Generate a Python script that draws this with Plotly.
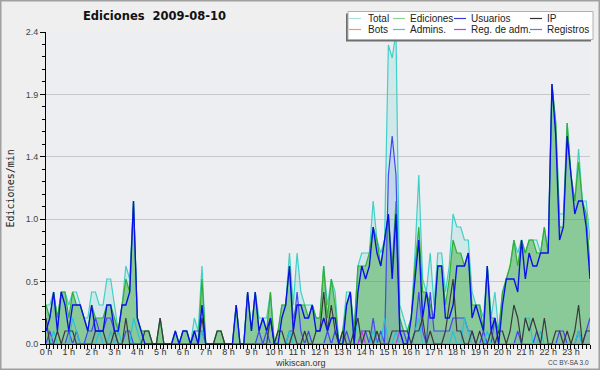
import plotly.graph_objects as go

# ---------------- data (edits per minute, 10-minute slots) ----------------
slot_minutes = list(range(0, 1440, 10))

total = [
    0.3, 0.3, 0.4, 0.2, 0.4, 0.4,   # 0 h
    0.3, 0.4, 0.4, 0.3, 0.2, 0.2,   # 1 h
    0.4, 0.4, 0.3, 0.3, 0.5, 0.5,   # 2 h
    0.3, 0.1, 0.3, 0.6, 0.5, 1.1,   # 3 h
    0.2, 0.1, 0.1, 0.1, 0.0, 0.0,   # 4 h
    0.2, 0.0, 0.0, 0.0, 0.1, 0.0,   # 5 h
    0.1, 0.1, 0.0, 0.2, 0.1, 0.6,   # 6 h
    0.0, 0.0, 0.0, 0.1, 0.1, 0.0,   # 7 h
    0.0, 0.0, 0.3, 0.0, 0.0, 0.4,   # 8 h
    0.1, 0.4, 0.2, 0.2, 0.2, 0.4,   # 9 h
    0.0, 0.1, 0.3, 0.3, 0.7, 0.3,   # 10 h
    0.7, 0.4, 0.3, 0.3, 0.3, 0.2,   # 11 h
    0.2, 0.6, 0.3, 0.5, 0.4, 0.0,   # 12 h
    0.1, 0.4, 0.4, 0.1, 0.6, 0.7,   # 13 h
    0.7, 0.7, 1.1, 0.8, 0.7, 0.8,   # 14 h
    2.3, 2.2, 2.4, 0.3, 0.2, 0.1,   # 15 h
    0.2, 0.7, 1.3, 0.5, 0.4, 0.7,   # 16 h
    0.3, 0.7, 0.7, 0.4, 0.6, 1.0,   # 17 h
    0.9, 0.9, 0.8, 0.8, 0.4, 0.3,   # 18 h
    0.3, 0.2, 0.6, 0.2, 0.4, 0.1,   # 19 h
    0.4, 0.5, 0.6, 0.8, 0.7, 0.8,   # 20 h
    0.7, 0.8, 0.8, 0.8, 0.7, 0.9,   # 21 h
    0.7, 2.0, 1.7, 1.0, 1.0, 1.7,   # 22 h
    1.3, 1.1, 1.5, 1.1, 1.1, 0.8,   # 23 h
]

ediciones = [
    0.3, 0.2, 0.4, 0.2, 0.4, 0.4,
    0.2, 0.4, 0.3, 0.3, 0.2, 0.1,
    0.3, 0.2, 0.2, 0.2, 0.3, 0.3,
    0.2, 0.1, 0.3, 0.5, 0.4, 1.1,
    0.2, 0.1, 0.1, 0.1, 0.0, 0.0,
    0.2, 0.0, 0.0, 0.0, 0.1, 0.0,
    0.1, 0.1, 0.0, 0.1, 0.0, 0.5,
    0.0, 0.0, 0.0, 0.1, 0.1, 0.0,
    0.0, 0.0, 0.3, 0.0, 0.0, 0.4,
    0.1, 0.4, 0.1, 0.2, 0.1, 0.4,
    0.0, 0.1, 0.3, 0.3, 0.6, 0.2,
    0.3, 0.3, 0.3, 0.2, 0.3, 0.2,
    0.2, 0.6, 0.2, 0.5, 0.3, 0.0,
    0.1, 0.3, 0.4, 0.1, 0.6, 0.6,
    0.6, 0.7, 0.9, 0.8, 0.6, 0.8,
    1.0, 0.6, 1.1, 0.2, 0.1, 0.1,
    0.2, 0.6, 0.9, 0.4, 0.4, 0.3,
    0.2, 0.6, 0.6, 0.3, 0.5, 0.8,
    0.7, 0.7, 0.6, 0.7, 0.3, 0.3,
    0.3, 0.1, 0.6, 0.2, 0.2, 0.1,
    0.4, 0.5, 0.6, 0.8, 0.6, 0.8,
    0.7, 0.8, 0.8, 0.7, 0.7, 0.9,
    0.7, 2.0, 1.7, 0.9, 0.9, 1.7,
    1.3, 1.1, 1.4, 1.1, 1.0, 0.6,
]

usuarios = [
    0.1, 0.2, 0.4, 0.1, 0.4, 0.3,
    0.1, 0.3, 0.3, 0.3, 0.2, 0.1,
    0.3, 0.1, 0.1, 0.1, 0.3, 0.3,
    0.1, 0.1, 0.3, 0.3, 0.4, 1.1,
    0.2, 0.1, 0.0, 0.0, 0.0, 0.0,
    0.0, 0.0, 0.0, 0.0, 0.1, 0.0,
    0.1, 0.1, 0.0, 0.1, 0.0, 0.3,
    0.0, 0.0, 0.0, 0.0, 0.0, 0.0,
    0.0, 0.0, 0.3, 0.0, 0.0, 0.4,
    0.1, 0.4, 0.1, 0.2, 0.1, 0.2,
    0.0, 0.0, 0.2, 0.3, 0.6, 0.1,
    0.3, 0.3, 0.2, 0.2, 0.3, 0.1,
    0.1, 0.2, 0.1, 0.2, 0.2, 0.0,
    0.0, 0.3, 0.4, 0.0, 0.4, 0.6,
    0.5, 0.6, 0.9, 0.7, 0.6, 0.8,
    1.0, 0.5, 1.0, 0.1, 0.0, 0.0,
    0.2, 0.5, 0.8, 0.2, 0.4, 0.2,
    0.2, 0.6, 0.6, 0.2, 0.2, 0.3,
    0.6, 0.6, 0.6, 0.7, 0.2, 0.3,
    0.2, 0.1, 0.6, 0.1, 0.2, 0.0,
    0.3, 0.5, 0.5, 0.5, 0.4, 0.8,
    0.5, 0.7, 0.6, 0.6, 0.7, 0.7,
    0.7, 2.0, 1.6, 0.8, 0.9, 1.6,
    1.3, 1.0, 1.1, 1.1, 0.9, 0.5,
]

ip = [
    0.2, 0.0, 0.0, 0.1, 0.0, 0.1,
    0.1, 0.1, 0.0, 0.0, 0.0, 0.0,
    0.0, 0.1, 0.1, 0.1, 0.0, 0.0,
    0.1, 0.0, 0.0, 0.2, 0.0, 0.0,
    0.0, 0.0, 0.1, 0.1, 0.0, 0.0,
    0.2, 0.0, 0.0, 0.0, 0.0, 0.0,
    0.0, 0.0, 0.0, 0.0, 0.0, 0.2,
    0.0, 0.0, 0.0, 0.1, 0.1, 0.0,
    0.0, 0.0, 0.0, 0.0, 0.0, 0.0,
    0.0, 0.0, 0.0, 0.0, 0.0, 0.2,
    0.0, 0.1, 0.1, 0.0, 0.0, 0.1,
    0.0, 0.0, 0.1, 0.0, 0.0, 0.1,
    0.1, 0.4, 0.1, 0.3, 0.1, 0.0,
    0.1, 0.0, 0.0, 0.1, 0.2, 0.0,
    0.1, 0.1, 0.0, 0.1, 0.0, 0.0,
    0.0, 0.1, 0.1, 0.1, 0.1, 0.1,
    0.0, 0.1, 0.1, 0.2, 0.0, 0.1,
    0.0, 0.0, 0.0, 0.1, 0.3, 0.5,
    0.1, 0.1, 0.0, 0.0, 0.1, 0.0,
    0.1, 0.0, 0.0, 0.1, 0.0, 0.1,
    0.1, 0.0, 0.1, 0.3, 0.2, 0.0,
    0.2, 0.1, 0.2, 0.1, 0.0, 0.2,
    0.0, 0.0, 0.1, 0.1, 0.0, 0.1,
    0.0, 0.1, 0.3, 0.0, 0.1, 0.1,
]

registros = [
    0.0, 0.1, 0.0, 0.0, 0.0, 0.0,
    0.1, 0.0, 0.1, 0.0, 0.0, 0.1,
    0.1, 0.2, 0.1, 0.1, 0.2, 0.2,
    0.1, 0.0, 0.0, 0.1, 0.1, 0.0,
    0.0, 0.0, 0.0, 0.0, 0.0, 0.0,
    0.0, 0.0, 0.0, 0.0, 0.0, 0.0,
    0.0, 0.0, 0.0, 0.1, 0.1, 0.1,
    0.0, 0.0, 0.0, 0.0, 0.0, 0.0,
    0.0, 0.0, 0.0, 0.0, 0.0, 0.0,
    0.0, 0.0, 0.1, 0.0, 0.1, 0.0,
    0.0, 0.0, 0.0, 0.0, 0.1, 0.1,
    0.4, 0.1, 0.0, 0.1, 0.0, 0.0,
    0.0, 0.0, 0.1, 0.0, 0.1, 0.0,
    0.0, 0.1, 0.0, 0.0, 0.0, 0.1,
    0.1, 0.0, 0.2, 0.0, 0.1, 0.0,
    1.3, 1.6, 1.3, 0.1, 0.1, 0.0,
    0.0, 0.1, 0.4, 0.1, 0.0, 0.4,
    0.1, 0.1, 0.1, 0.1, 0.1, 0.2,
    0.2, 0.2, 0.2, 0.1, 0.1, 0.0,
    0.0, 0.1, 0.0, 0.0, 0.2, 0.0,
    0.0, 0.0, 0.0, 0.0, 0.1, 0.0,
    0.0, 0.0, 0.0, 0.1, 0.0, 0.0,
    0.0, 0.0, 0.0, 0.1, 0.1, 0.0,
    0.0, 0.0, 0.1, 0.0, 0.1, 0.2,
]

admins = [
    0.0, 0.0, 0.1, 0.0, 0.0, 0.0,
    0.0, 0.2, 0.1, 0.0, 0.0, 0.0,
    0.0, 0.0, 0.1, 0.0, 0.0, 0.1,
    0.0, 0.1, 0.0, 0.0, 0.0, 0.2,
    0.1, 0.0, 0.0, 0.0, 0.0, 0.0,
    0.0, 0.0, 0.0, 0.0, 0.0, 0.0,
    0.0, 0.0, 0.0, 0.0, 0.0, 0.1,
    0.0, 0.0, 0.0, 0.0, 0.0, 0.0,
    0.0, 0.0, 0.0, 0.0, 0.0, 0.0,
    0.0, 0.0, 0.0, 0.0, 0.0, 0.0,
    0.0, 0.0, 0.0, 0.0, 0.1, 0.0,
    0.0, 0.0, 0.0, 0.0, 0.0, 0.0,
    0.0, 0.0, 0.0, 0.0, 0.0, 0.0,
    0.0, 0.0, 0.0, 0.0, 0.2, 0.0,
    0.0, 0.0, 0.1, 0.0, 0.0, 0.2,
    0.0, 0.0, 0.1, 0.0, 0.0, 0.0,
    0.0, 0.1, 0.2, 0.0, 0.0, 0.0,
    0.0, 0.0, 0.0, 0.0, 0.0, 0.1,
    0.0, 0.0, 0.2, 0.1, 0.0, 0.0,
    0.0, 0.0, 0.1, 0.0, 0.0, 0.0,
    0.0, 0.0, 0.0, 0.0, 0.0, 0.0,
    0.2, 0.2, 0.0, 0.0, 0.1, 0.0,
    0.0, 0.0, 0.0, 0.0, 0.0, 0.0,
    0.0, 0.0, 0.1, 0.0, 0.0, 0.0,
]

reg_adm = [
    0.0, 0.0, 0.0, 0.0, 0.0, 0.0,
    0.0, 0.0, 0.0, 0.0, 0.0, 0.0,
    0.0, 0.0, 0.0, 0.0, 0.0, 0.0,
    0.0, 0.0, 0.0, 0.0, 0.0, 0.0,
    0.0, 0.0, 0.0, 0.0, 0.0, 0.0,
    0.0, 0.0, 0.0, 0.0, 0.0, 0.0,
    0.0, 0.0, 0.0, 0.0, 0.0, 0.0,
    0.0, 0.0, 0.0, 0.0, 0.0, 0.0,
    0.0, 0.0, 0.0, 0.0, 0.0, 0.0,
    0.0, 0.0, 0.0, 0.0, 0.0, 0.0,
    0.0, 0.0, 0.0, 0.0, 0.0, 0.0,
    0.0, 0.0, 0.0, 0.0, 0.0, 0.0,
    0.0, 0.0, 0.0, 0.0, 0.0, 0.0,
    0.0, 0.0, 0.0, 0.0, 0.0, 0.1,
    0.0, 0.0, 0.0, 0.0, 0.0, 0.0,
    0.0, 0.0, 0.0, 0.1, 0.0, 0.0,
    0.0, 0.0, 0.0, 0.0, 0.0, 0.0,
    0.0, 0.0, 0.0, 0.0, 0.0, 0.0,
    0.0, 0.0, 0.0, 0.0, 0.0, 0.0,
    0.0, 0.0, 0.0, 0.0, 0.0, 0.0,
    0.0, 0.0, 0.0, 0.0, 0.0, 0.0,
    0.0, 0.0, 0.0, 0.0, 0.0, 0.0,
    0.0, 0.0, 0.0, 0.0, 0.0, 0.0,
    0.0, 0.0, 0.0, 0.0, 0.0, 0.0,
]

bots = [
    0.0, 0.0, 0.0, 0.0, 0.0, 0.0,  0.0, 0.0, 0.0, 0.0, 0.0, 0.0,
    0.0, 0.0, 0.0, 0.0, 0.0, 0.0,  0.0, 0.0, 0.0, 0.0, 0.0, 0.0,
    0.0, 0.0, 0.0, 0.0, 0.0, 0.0,  0.0, 0.0, 0.0, 0.0, 0.0, 0.0,
    0.0, 0.0, 0.0, 0.0, 0.0, 0.0,  0.0, 0.0, 0.0, 0.0, 0.0, 0.0,
    0.0, 0.0, 0.0, 0.0, 0.0, 0.0,  0.0, 0.0, 0.0, 0.0, 0.0, 0.0,
    0.0, 0.0, 0.0, 0.0, 0.0, 0.0,  0.0, 0.0, 0.0, 0.0, 0.0, 0.0,
    0.0, 0.0, 0.0, 0.0, 0.0, 0.0,  0.0, 0.0, 0.0, 0.0, 0.0, 0.0,
    0.0, 0.0, 0.0, 0.0, 0.0, 0.0,  0.0, 0.0, 0.0, 0.0, 0.0, 0.0,
    0.0, 0.0, 0.0, 0.0, 0.0, 0.0,  0.0, 0.0, 0.0, 0.0, 0.0, 0.0,
    0.0, 0.0, 0.0, 0.0, 0.0, 0.0,  0.0, 0.0, 0.0, 0.0, 0.0, 0.0,
    0.0, 0.0, 0.0, 0.0, 0.0, 0.0,  0.0, 0.0, 0.0, 0.0, 0.0, 0.0,
    0.0, 0.0, 0.0, 0.0, 0.0, 0.0,  0.0, 0.0, 0.0, 0.0, 0.0, 0.0,
]

hour_labels = ["0 h", "1 h", "2 h", "3 h", "4 h", "5 h", "6 h", "7 h",
               "8 h", "9 h", "10 h", "11 h", "12 h", "13 h", "14 h", "15 h",
               "16 h", "17 h", "18 h", "19 h", "20 h", "21 h", "22 h", "23 h"]
hour_ticks = [h * 60 for h in range(24)]

y_tickvals = [0.0, 0.48, 0.96, 1.44, 1.92, 2.4]
y_ticktext = ["0.0", "0.5", "1.0", "1.4", "1.9", "2.4"]

legend_names = ["Total", "Ediciones", "Usuarios", "IP",
                "Bots", "Admins.", "Reg. de adm.", "Registros"]
legend_colors = ["#a6e2e2", "#8ed68e", "#3a3ad6", "#303030",
                 "#f0a040", "#40c8e0", "#c040e0", "#7070f0"]

title_text = "Ediciones\u00a0 2009-08-10"
y_title = "Ediciones/min"

# ---------------- geometry helpers ----------------
W, H = 600, 370
ML, MR, MT, MB = 46, 10, 32, 26
PW, PH = W - ML - MR, H - MT - MB


def px_x(px):
    return (px - ML) / PW


def px_y(py):
    return (H - MB - py) / PH


fig = go.Figure()


def add_series(vals, color, width=1.1, fill=None, fillcolor=None):
    fig.add_trace(go.Scatter(
        x=slot_minutes, y=vals, mode="lines",
        line=dict(color=color, width=width),
        fill=fill, fillcolor=fillcolor,
        showlegend=False, hoverinfo="skip"))


add_series(total, "#3fd0c6", 1.2, "tozeroy", "rgba(64,208,200,0.16)")
add_series(ediciones, "#33ae33", 1.2, "tozeroy", "rgba(40,160,40,0.42)")
add_series(registros, "#4646f0", 1.2, "tozeroy", "rgba(70,70,240,0.10)")
add_series(admins, "#22c4dc", 1.1)
add_series(reg_adm, "#cc33dd", 1.1)
add_series(bots, "#ff9a30", 1.0)
add_series(ip, "#3a3a3a", 1.2)
add_series(usuarios, "#0a10e8", 1.35)

fig.update_layout(
    width=W, height=H,
    margin=dict(l=ML, r=MR, t=MT, b=MB, pad=0),
    paper_bgcolor="#efefef",
    plot_bgcolor="#eceef1",
    showlegend=False,
    font=dict(family="Liberation Sans, Arial, sans-serif", size=9, color="#333333"),
)

fig.update_xaxes(
    range=[0, 1430],
    tickmode="array", tickvals=hour_ticks, ticktext=hour_labels,
    ticks="outside", ticklen=4, tickwidth=1, tickcolor="black",
    showline=True, linecolor="black", linewidth=1,
    showgrid=False, zeroline=False,
    ticklabelstandoff=-5,
    tickfont=dict(size=9, color="#333333"),
    minor=dict(tickmode="linear", tick0=0, dtick=10, ticks="outside",
               ticklen=4, tickwidth=1, tickcolor="black", showgrid=False),
)

fig.update_yaxes(
    range=[0, 2.4],
    tickmode="array", tickvals=y_tickvals, ticktext=y_ticktext,
    ticks="outside", ticklen=5, tickwidth=1, tickcolor="black",
    showline=True, linecolor="black", linewidth=1,
    showgrid=True, gridcolor="#c8c8c8", gridwidth=1,
    zeroline=False,
    tickfont=dict(size=9, color="#444444"),
    minor=dict(tickmode="linear", tick0=0, dtick=0.096, ticks="outside",
               ticklen=3, tickwidth=1, tickcolor="black", showgrid=False),
)

shapes = []
annotations = []

# outer border of the image
shapes.append(dict(type="rect", xref="paper", yref="paper",
                   x0=px_x(0.75), x1=px_x(599.25), y0=px_y(0.75), y1=px_y(369.25),
                   line=dict(color="#a0a0a0", width=1.5), fillcolor="rgba(0,0,0,0)",
                   layer="above"))

# legend box: shadow + white box
shapes.append(dict(type="rect", xref="paper", yref="paper",
                   x0=px_x(346), x1=px_x(591), y0=px_y(13.5), y1=px_y(41.5),
                   line=dict(width=0), fillcolor="#6e6e6e", layer="above"))
shapes.append(dict(type="rect", xref="paper", yref="paper",
                   x0=px_x(348), x1=px_x(593), y0=px_y(11.5), y1=px_y(39.5),
                   line=dict(color="#b0b0b0", width=1), fillcolor="#ffffff", layer="above"))

col_line_x = [349, 393, 454, 530]
col_text_x = [366, 408, 469, 545]
row_y = [18.5, 29.5]
for i, (name, color) in enumerate(zip(legend_names, legend_colors)):
    r, c = divmod(i, 4)
    x0 = col_line_x[c]
    yy = row_y[r]
    shapes.append(dict(type="line", xref="paper", yref="paper",
                       x0=px_x(x0), x1=px_x(x0 + 12), y0=px_y(yy), y1=px_y(yy),
                       line=dict(color=color, width=1.2), layer="above"))
    annotations.append(dict(xref="paper", yref="paper", x=px_x(col_text_x[c]), y=px_y(yy),
                            text=name, showarrow=False, xanchor="left", yanchor="middle",
                            font=dict(family="Liberation Sans, Arial, sans-serif",
                                      size=10, color="#222222")))

# title
annotations.append(dict(xref="paper", yref="paper", x=px_x(154), y=px_y(16.5),
                        text="<b>" + title_text + "</b>", showarrow=False,
                        xanchor="center", yanchor="middle",
                        font=dict(family="DejaVu Sans, sans-serif", size=11.5, color="#111111")))

# y axis title
annotations.append(dict(xref="paper", yref="paper", x=px_x(9.5), y=px_y(189),
                        text=y_title, showarrow=False, textangle=-90,
                        xanchor="center", yanchor="middle",
                        font=dict(family="DejaVu Sans Mono, monospace", size=10, color="#222222")))

# footer texts
annotations.append(dict(xref="paper", yref="paper", x=px_x(300), y=px_y(362.5),
                        text="wikiscan.org", showarrow=False, borderpad=0,
                        xanchor="center", yanchor="middle",
                        font=dict(family="Liberation Sans, Arial, sans-serif", size=9, color="#333333")))
annotations.append(dict(xref="paper", yref="paper", x=px_x(589.5), y=px_y(362.5),
                        text="CC BY-SA 3.0", showarrow=False, borderpad=0,
                        xanchor="right", yanchor="middle",
                        font=dict(family="Liberation Sans, Arial, sans-serif", size=6.5, color="#444444")))

fig.update_layout(shapes=shapes, annotations=annotations)

fig.write_html("out.html", include_plotlyjs=True, config={"displayModeBar": False})

# remove the default page margin so the figure sits at the window's top-left corner
with open("out.html", "r", encoding="utf-8") as fh:
    html = fh.read()
html = html.replace("<head>", "<head><style>html,body{margin:0;padding:0;overflow:hidden;}</style>", 1)
with open("out.html", "w", encoding="utf-8") as fh:
    fh.write(html)
